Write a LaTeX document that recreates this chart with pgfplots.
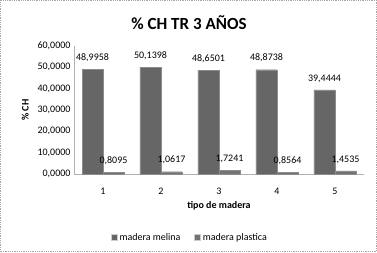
\documentclass[border=0pt]{standalone}
\usepackage{pgfplots}
\pgfplotsset{compat=1.18}
\usepackage{fontspec}
\setmainfont{Carlito}
\begin{document}
\begin{tikzpicture}[x=1pt,y=1pt]
\fill[white] (0,0) rectangle (377,252);
\draw[gray!70, densely dotted, line width=0.8pt] (0.5,0.5) rectangle (376.5,251.5);
\node[font=\fontsize{17}{20}\selectfont\bfseries] at (189,229) {\% CH TR 3 AÑOS};
\begin{axis}[
  at={(74pt,78pt)}, anchor=south west,
  scale only axis, width=290pt, height=128pt,
  xmin=0.5, xmax=5.5, ymin=0, ymax=60,
  ybar=0pt, bar width=21pt,
  xtick={1,2,3,4,5}, ytick={0,10,20,30,40,50,60},
  axis x line*=bottom, axis y line*=left,
  axis line style={gray!60, line width=0.8pt},
  x axis line style={-}, y axis line style={-},
  tick style={draw=none},
  tick label style={font=\fontsize{10}{12}\selectfont},
  /pgf/number format/assume math mode=true,
  yticklabel={\pgfmathprintnumber[fixed,fixed zerofill,precision=4,use comma]{\tick}},
  xticklabel style={yshift=-6pt},
  xlabel={\bfseries tipo de madera},
  ylabel={\bfseries \% CH},
  label style={font=\fontsize{10}{12}\selectfont},
  xlabel style={yshift=0pt},
  ylabel style={yshift=2pt},
  nodes near coords={\pgfmathprintnumber[fixed,fixed zerofill,precision=4,use comma]{\pgfplotspointmeta}},
  nodes near coords style={font=\fontsize{10}{12}\selectfont, /pgf/number format/assume math mode=true, yshift=4pt},
  legend style={at={(0.4,-0.43)}, anchor=north, draw=none, legend columns=2,
    font=\fontsize{10}{12}\selectfont, /tikz/every even column/.append style={column sep=12pt}},
  legend image code/.code={\draw[#1, draw=gray!40] (0pt,-3pt) rectangle (6pt,3pt);},
]
\addplot[fill=black!60, draw=black!45] coordinates {(1,48.9958) (2,50.1398) (3,48.6501) (4,48.8738) (5,39.4444)};
\addplot[fill=black!55, draw=black!45] coordinates {(1,0.8095) (2,1.0617) (3,1.7241) (4,0.8564) (5,1.4535)};
\legend{madera melina, madera plastica}
\end{axis}
\end{tikzpicture}
\end{document}
